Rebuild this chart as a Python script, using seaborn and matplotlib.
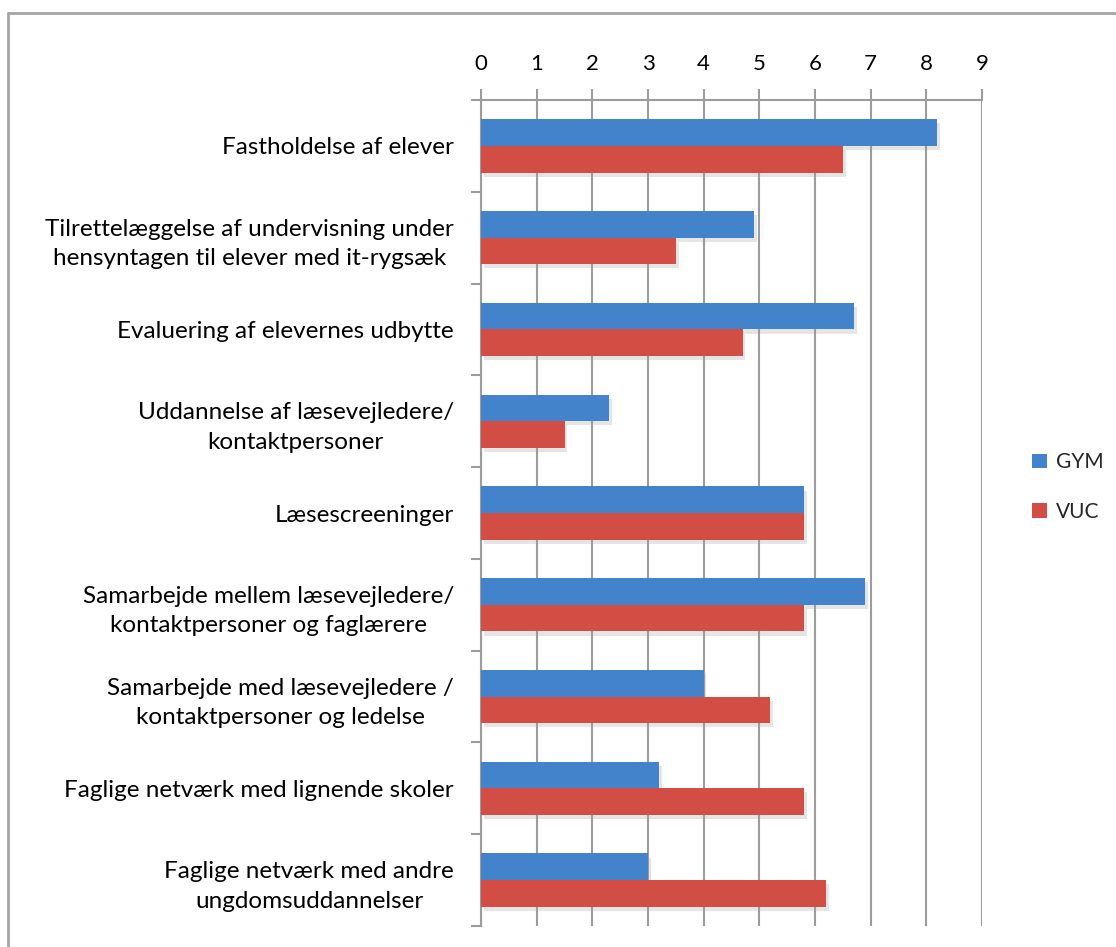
import matplotlib
matplotlib.use("Agg")
import matplotlib.pyplot as plt
import matplotlib.patheffects as pe
from matplotlib.lines import Line2D
from matplotlib.patches import Patch
import seaborn as sns
import pandas as pd

# Data
categories = [
    "Fastholdelse af elever",
    "Tilrettelæggelse af undervisning under\nhensyntagen til elever med it-rygsæk",
    "Evaluering af elevernes udbytte",
    "Uddannelse af læsevejledere/\nkontaktpersoner",
    "Læsescreeninger",
    "Samarbejde mellem læsevejledere/\nkontaktpersoner og faglærere",
    "Samarbejde med læsevejledere /\nkontaktpersoner og ledelse",
    "Faglige netværk med lignende skoler",
    "Faglige netværk med andre\nungdomsuddannelser",
]
gym = [8.2, 4.9, 6.7, 2.3, 5.8, 6.9, 4.0, 3.2, 3.0]
vuc = [6.5, 3.5, 4.7, 1.5, 5.8, 5.8, 5.2, 5.8, 6.2]
series = ["GYM", "VUC"]
colors = {"GYM": "#4283CB", "VUC": "#D24E45"}

df = pd.DataFrame({
    "category": categories * 2,
    "value": gym + vuc,
    "series": ["GYM"] * len(gym) + ["VUC"] * len(vuc),
})

sns.set_style("white")
plt.rcParams["font.family"] = ["Lato", "DejaVu Sans"]

W, H = 1116, 947
fig = plt.figure(figsize=(W / 100, H / 100), dpi=100)
ax = fig.add_axes([481 / W, 1 - 926 / H, (982 - 481) / W, (926 - 100) / H])

sns.barplot(data=df, x="value", y="category", hue="series", order=categories,
            hue_order=series, palette=colors, width=0.58, orient="h",
            linewidth=0, saturation=1, legend=False, ax=ax, zorder=3)

for bar in ax.patches:
    bar.set_path_effects([pe.SimplePatchShadow(offset=(2, -3), shadow_rgbFace="#999999", alpha=0.25),
                          pe.Normal()])

grid_col = "#9C9C9C"
ax.set_xlim(0, 9)
ax.set_ylim(len(categories) - 0.5, -0.5)
ax.set_xticks(range(10))
ax.xaxis.tick_top()
ax.tick_params(axis="x", top=True, bottom=False, length=8, width=1.5, color=grid_col,
               direction="out", labelsize=16, pad=11, labelcolor="black")
ax.xaxis.grid(True, color=grid_col, linewidth=1.5, zorder=0)
ax.set_axisbelow(True)

ax.set_yticks(range(len(categories)))
ax.set_yticklabels(categories, multialignment="center")
ax.set_yticks([i - 0.5 for i in range(len(categories) + 1)], minor=True)
ax.tick_params(axis="y", which="major", left=False, labelsize=17.5, pad=16, labelcolor="black")
ax.tick_params(axis="y", which="minor", left=True, length=7, width=1.5, color=grid_col, direction="out")
for lab in ax.get_yticklabels():
    lab.set_linespacing(1.5)

ax.set_xlabel("")
ax.set_ylabel("")
for side in ["right", "bottom"]:
    ax.spines[side].set_visible(False)
for side in ["top", "left"]:
    ax.spines[side].set_visible(True)
    ax.spines[side].set_color(grid_col)
    ax.spines[side].set_linewidth(1.5)

handles = [Patch(facecolor=colors[s], edgecolor="none") for s in series]
fig.legend(handles, series, loc="center left", bbox_to_anchor=(1024 / W, 1 - 487 / H),
           frameon=False, fontsize=15, handlelength=0.7, handleheight=0.7,
           handletextpad=0.45, labelspacing=1.4, borderaxespad=0)

# outer chart frame
fig.add_artist(Line2D([8 / W, 8 / W], [0, 1 - 13 / H], color="#A5A5A5", linewidth=2,
                      transform=fig.transFigure))
fig.add_artist(Line2D([8 / W, 1], [1 - 13 / H, 1 - 13 / H], color="#A5A5A5", linewidth=2,
                      transform=fig.transFigure))

fig.savefig("out.png", dpi=100, facecolor="white")
